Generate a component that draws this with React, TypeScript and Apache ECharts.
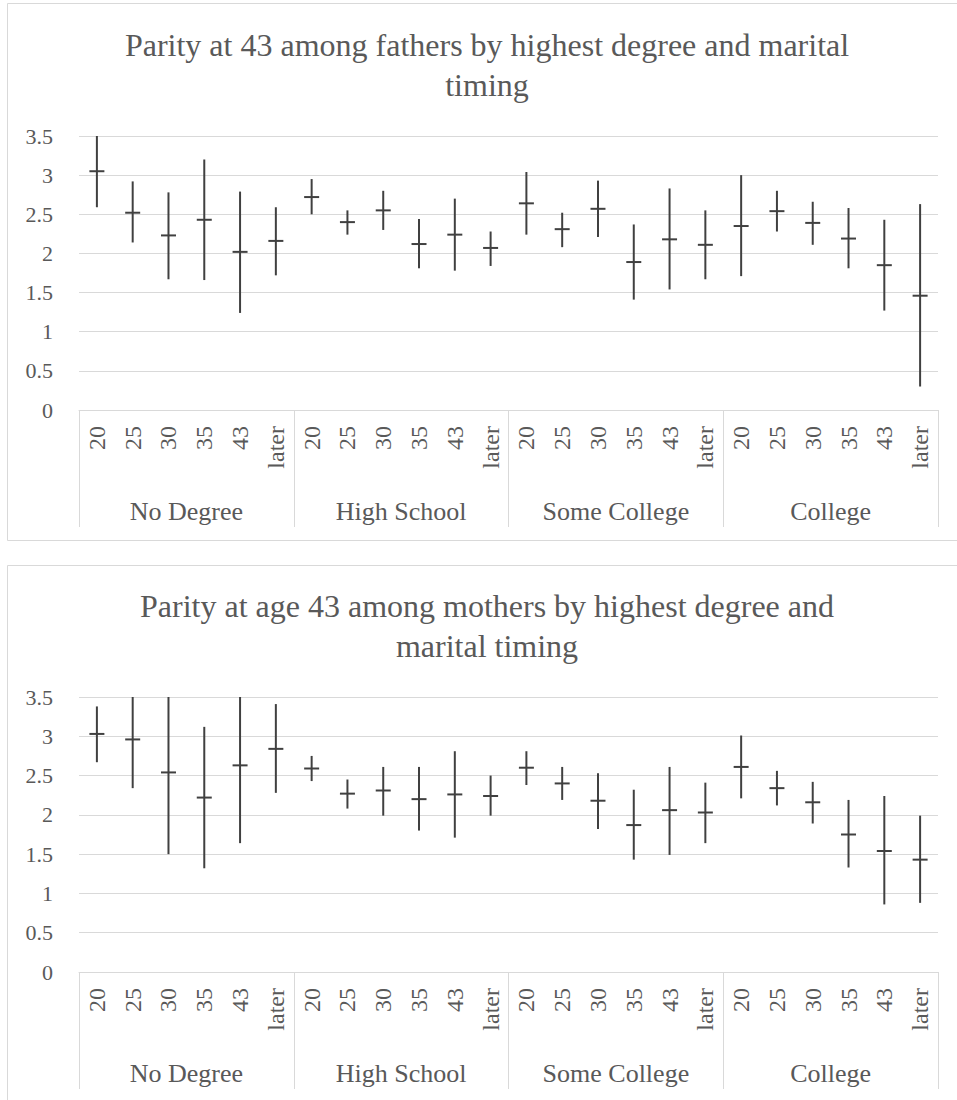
import React, { useEffect, useRef } from "react";
import * as echarts from "echarts";

const subCats = ["20", "25", "30", "35", "43", "later"];
const groups = ["No Degree", "High School", "Some College", "College"];
const yTicks = [0, 0.5, 1, 1.5, 2, 2.5, 3, 3.5];

const fatherMean = [3.05, 2.52, 2.23, 2.43, 2.02, 2.16, 2.72, 2.40, 2.55, 2.12, 2.24, 2.07, 2.64, 2.31, 2.57, 1.89, 2.18, 2.11, 2.35, 2.54, 2.39, 2.19, 1.85, 1.46];
const fatherLow = [2.59, 2.14, 1.67, 1.66, 1.24, 1.72, 2.50, 2.24, 2.30, 1.81, 1.78, 1.84, 2.24, 2.08, 2.21, 1.41, 1.54, 1.67, 1.71, 2.28, 2.11, 1.81, 1.27, 0.30];
const fatherHigh = [3.51, 2.92, 2.78, 3.20, 2.79, 2.59, 2.95, 2.55, 2.80, 2.44, 2.70, 2.28, 3.04, 2.52, 2.93, 2.37, 2.83, 2.55, 3.00, 2.80, 2.66, 2.58, 2.43, 2.63];

const motherMean = [3.03, 2.96, 2.54, 2.22, 2.63, 2.84, 2.59, 2.27, 2.31, 2.20, 2.26, 2.24, 2.60, 2.40, 2.18, 1.87, 2.06, 2.03, 2.61, 2.34, 2.16, 1.75, 1.54, 1.43];
const motherLow = [2.67, 2.34, 1.50, 1.32, 1.64, 2.28, 2.43, 2.08, 1.99, 1.80, 1.71, 1.99, 2.38, 2.19, 1.82, 1.43, 1.49, 1.64, 2.21, 2.12, 1.89, 1.33, 0.86, 0.88];
const motherHigh = [3.38, 3.58, 3.58, 3.12, 3.62, 3.41, 2.75, 2.45, 2.61, 2.61, 2.81, 2.50, 2.81, 2.61, 2.53, 2.32, 2.61, 2.41, 3.01, 2.56, 2.42, 2.19, 2.24, 1.99];

const titles = [
  "Parity at 43 among fathers by highest degree and marital\ntiming",
  "Parity at age 43 among mothers by highest degree and\nmarital timing",
];

const FONT = "'Liberation Serif', 'Times New Roman', 'DejaVu Serif', serif";
const TXT = "#595959";
const GRID = "#d9d9d9";
const BAR = "#404040";

export default function App() {
  const ref = useRef<HTMLDivElement>(null);
  useEffect(() => {
    if (!ref.current) return;
    const chart = echarts.init(ref.current, null, { renderer: "svg" });
    const subData: string[] = [];
    groups.forEach(() => subCats.forEach((c) => subData.push(c)));

    const grids = [
      { left: 79, top: 136, width: 859, height: 274 },
      { left: 79, top: 697, width: 859, height: 275 },
    ];

    const xAxes: any[] = [];
    const yAxes: any[] = [];
    const series: any[] = [];
    const sets = [
      [fatherMean, fatherLow, fatherHigh],
      [motherMean, motherLow, motherHigh],
    ];

    grids.forEach((g, gi) => {
      xAxes.push({
        type: "category",
        gridIndex: gi,
        position: "bottom",
        data: subData,
        axisLine: { show: true, lineStyle: { color: GRID, width: 1 } },
        axisTick: { show: false },
        axisLabel: {
          rotate: 90,
          margin: 16,
          interval: 0,
          color: TXT,
          fontFamily: FONT,
          fontSize: 24,
        },
        splitLine: { show: false },
      });
      xAxes.push({
        type: "category",
        gridIndex: gi,
        position: "bottom",
        data: groups,
        axisLine: { show: false },
        axisTick: { show: true, length: 117, lineStyle: { color: GRID, width: 1 } },
        axisLabel: {
          margin: 88,
          interval: 0,
          color: TXT,
          fontFamily: FONT,
          fontSize: 26,
        },
      });
      yAxes.push({
        type: "value",
        gridIndex: gi,
        min: 0,
        max: 3.5,
        interval: 0.5,
        axisLine: { show: false },
        axisTick: { show: false },
        axisLabel: { margin: 26, color: TXT, fontFamily: FONT, fontSize: 22 },
        splitLine: { show: true, lineStyle: { color: GRID, width: 1 } },
      });
      const [m, lo, hi] = sets[gi];
      series.push({
        type: "custom",
        xAxisIndex: gi * 2,
        yAxisIndex: gi,
        data: m.map((v, i) => [i, v, lo[i], hi[i]]),
        encode: { x: 0, y: [1, 2, 3] },
        renderItem: (params: any, api: any) => {
          const idx = api.value(0);
          const pM = api.coord([idx, api.value(1)]);
          const pL = api.coord([idx, api.value(2)]);
          const pH = api.coord([idx, api.value(3)]);
          const cs = params.coordSys;
          const top = Math.max(pH[1], cs.y);
          const bot = Math.min(pL[1], cs.y + cs.height);
          return {
            type: "group",
            children: [
              { type: "line", shape: { x1: pM[0], y1: top, x2: pM[0], y2: bot }, style: { stroke: BAR, lineWidth: 2 } },
              { type: "line", shape: { x1: pM[0] - 7.5, y1: pM[1], x2: pM[0] + 7.5, y2: pM[1] }, style: { stroke: BAR, lineWidth: 2 } },
            ],
          };
        },
      });
    });

    chart.setOption({
      animation: false,
      backgroundColor: "#ffffff",
      grid: grids.map((g) => ({ ...g, containLabel: false, outerBoundsMode: "none" })),
      xAxis: xAxes,
      yAxis: yAxes,
      series,
      graphic: [
        { type: "rect", shape: { x: 7.5, y: 3.5, width: 960, height: 537 }, style: { fill: "none", stroke: GRID, lineWidth: 1 }, silent: true },
        { type: "rect", shape: { x: 7.5, y: 565.5, width: 960, height: 560 }, style: { fill: "none", stroke: GRID, lineWidth: 1 }, silent: true },
        { type: "text", x: 487, y: 65, style: { text: titles[0], fill: TXT, fontFamily: FONT, fontSize: 32, textAlign: "center", textVerticalAlign: "middle", lineHeight: 40 } },
        { type: "text", x: 487, y: 626, style: { text: titles[1], fill: TXT, fontFamily: FONT, fontSize: 32, textAlign: "center", textVerticalAlign: "middle", lineHeight: 40 } },
      ],
    });
    return () => chart.dispose();
  }, []);
  return <div ref={ref} style={{ position: "absolute", left: 0, top: 0, width: 957, height: 1100 }} />;
}
